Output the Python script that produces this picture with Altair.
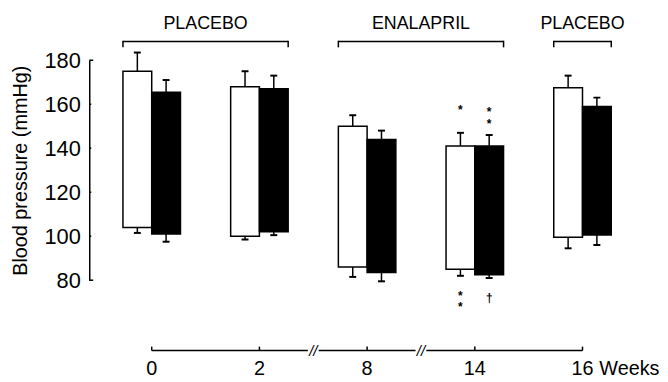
import altair as alt
import pandas as pd

# ---------------- data ----------------
weeks = ["0", "2", "8", "14", "16"]

white_top = [175, 168, 150, 141, 167.5]
white_top_err = [183.5, 175, 155, 147, 173]
white_bottom = [104, 100, 86, 85, 99.5]
white_bottom_err = [101.5, 98.5, 81.5, 82, 94.5]

black_top = [165.5, 167, 144, 141, 159]
black_top_err = [171, 173, 148, 146, 163]
black_bottom = [101, 102, 83.5, 82.5, 100.5]
black_bottom_err = [97.5, 100.5, 79.5, 81, 96]

phases = ["PLACEBO", "ENALAPRIL", "PLACEBO"]
phase_first = ["0", "8", "16"]
phase_last = ["2", "14", "16"]

y_ticks = [80, 100, 120, 140, 160, 180]

# significance marks: (week, series, side, text)
marks_week = ["14", "14", "14", "14"]
marks_series = ["white", "black", "white", "black"]
marks_side = ["above", "above", "below", "below"]
marks_text = ["*", "*\n*", "*\n*", "\u2020"]

# ---------------- derived tables ----------------
FONT = "Liberation Sans"
BW = 0.267  # bar width in group units
X_SCALE = alt.Scale(domain=[-0.58, 4.6], nice=False, zero=False)
Y_SCALE = alt.Scale(domain=[80, 180], nice=False, zero=False)
Y_AXIS = alt.Axis(values=y_ticks, ticks=False, tickSize=0, grid=False,
                  domainColor="black", domainWidth=1.5,
                  labelFont=FONT, labelFontSize=22, labelColor="black",
                  labelPadding=9,
                  title="Blood pressure (mmHg)", titleFont=FONT,
                  titleFontSize=20, titleFontWeight="normal",
                  titleColor="black", titlePadding=14)

rows = []
for i, w in enumerate(weeks):
    rows.append(dict(week=w, series="white", x0=i - BW, x1=i, xc=i - BW / 2,
                     top=white_top[i], top_err=white_top_err[i],
                     bottom=white_bottom[i], bottom_err=white_bottom_err[i]))
    rows.append(dict(week=w, series="black", x0=i, x1=i + BW, xc=i + BW / 2,
                     top=black_top[i], top_err=black_top_err[i],
                     bottom=black_bottom[i], bottom_err=black_bottom_err[i]))
bars = pd.DataFrame(rows)

idx = {w: i for i, w in enumerate(weeks)}
brackets = pd.DataFrame({
    "phase": phases,
    "x0": [idx[a] - BW for a in phase_first],
    "x1": [idx[b] + BW for b in phase_last],
})
brackets["xc"] = (brackets["x0"] + brackets["x1"]) / 2

wk_num = [int(w) for w in weeks]
breaks = [i + 0.5 for i in range(len(weeks) - 1) if wk_num[i + 1] - wk_num[i] > 2]
gap = 0.05
seg_starts = [0] + [b + gap for b in breaks]
seg_ends = [b - gap for b in breaks] + [len(weeks) - 1]
segments = pd.DataFrame({"a": seg_starts, "b": seg_ends})
axis_pts = pd.DataFrame({"pos": list(range(len(weeks))), "label": weeks})
break_df = pd.DataFrame({"pos": breaks})

ann = pd.DataFrame({"week": marks_week, "series": marks_series,
                    "side": marks_side, "text": marks_text})
ann = ann.merge(bars, on=["week", "series"])

tick_df = pd.DataFrame({"v": y_ticks})
tick_df["end"] = tick_df["v"].isin([min(y_ticks), max(y_ticks)])


def X(f):
    return alt.X(f"{f}:Q", scale=X_SCALE, axis=None)


def Y(f):
    return alt.Y(f"{f}:Q", scale=Y_SCALE, axis=Y_AXIS)


# ---------------- layers ----------------
bar_layer = alt.Chart(bars).mark_rect(stroke="black", strokeWidth=1.5).encode(
    x=X("x0"), x2="x1:Q",
    y=Y("bottom"), y2="top:Q",
    fill=alt.Fill("series:N", scale=alt.Scale(domain=["white", "black"],
                                             range=["white", "black"]),
                  legend=None),
)

err_up = alt.Chart(bars).mark_rule(color="black", strokeWidth=1.5).encode(
    x=X("xc"), y=Y("top"), y2="top_err:Q")
err_dn = alt.Chart(bars).mark_rule(color="black", strokeWidth=1.5).encode(
    x=X("xc"), y=Y("bottom"), y2="bottom_err:Q")
cap_up = alt.Chart(bars).mark_tick(orient="horizontal", size=7, thickness=2,
                                   color="black", opacity=1).encode(
    x=X("xc"), y=Y("top_err"))
cap_dn = alt.Chart(bars).mark_tick(orient="horizontal", size=7, thickness=2,
                                   color="black", opacity=1).encode(
    x=X("xc"), y=Y("bottom_err"))

ytick_end = alt.Chart(tick_df[tick_df["end"]]).mark_rule(color="black", strokeWidth=1.5).encode(
    y=Y("v"), x=alt.value(0), x2=alt.value(4))
ytick_mid = alt.Chart(tick_df[~tick_df["end"]]).mark_rule(color="black", strokeWidth=1.5).encode(
    y=Y("v"), x=alt.value(0), x2=alt.value(2))

ann_up = alt.Chart(ann[ann["side"] == "above"]).mark_text(
    font=FONT, fontSize=12, fontWeight="bold", baseline="alphabetic", lineBreak="\n",
    lineHeight=12, dy=-19, color="black").encode(
    x=X("xc"), y=Y("top_err"), text="text:N")
ann_dn = alt.Chart(ann[ann["side"] == "below"]).mark_text(
    font=FONT, fontSize=12, fontWeight="bold", baseline="alphabetic", lineBreak="\n",
    lineHeight=12, dy=24, color="black").encode(
    x=X("xc"), y=Y("bottom_err"), text="text:N")

# brackets above
br_h = alt.Chart(brackets).mark_rule(color="black", strokeWidth=1.5).encode(
    x=X("x0"), x2="x1:Q", y=alt.value(-19))
br_l = alt.Chart(brackets).mark_rule(color="black", strokeWidth=1.5).encode(
    x=X("x0"), y=alt.value(-19.7), y2=alt.value(-13))
br_r = alt.Chart(brackets).mark_rule(color="black", strokeWidth=1.5).encode(
    x=X("x1"), y=alt.value(-19.7), y2=alt.value(-13))
br_t = alt.Chart(brackets).mark_text(font=FONT, fontSize=18, baseline="middle",
                                     color="black").encode(
    x=X("xc"), y=alt.value(-37), text="phase:N")

# bottom (time) axis
ax_line = alt.Chart(segments).mark_rule(color="black", strokeWidth=1.5).encode(
    x=X("a"), x2="b:Q", y=alt.value(293))
ax_ticks = alt.Chart(axis_pts).mark_rule(color="black", strokeWidth=1.5).encode(
    x=X("pos"), y=alt.value(289), y2=alt.value(293))
ax_breaks = alt.Chart(break_df).mark_text(font=FONT, fontSize=15, fontStyle="italic",
                                          baseline="middle", color="black",
                                          text="//").encode(
    x=X("pos"), y=alt.value(293))
ax_labels = alt.Chart(axis_pts).mark_text(font=FONT, fontSize=20, baseline="middle",
                                          color="black").encode(
    x=X("pos"), y=alt.value(312), text="label:N")
ax_unit = alt.Chart(axis_pts.tail(1)).mark_text(font=FONT, fontSize=20, baseline="middle",
                                                align="left", dx=17, color="black",
                                                text="Weeks").encode(
    x=X("pos"), y=alt.value(312))

chart = alt.layer(
    bar_layer, err_up, err_dn, cap_up, cap_dn, ytick_end, ytick_mid,
    ann_up, ann_dn, br_h, br_l, br_r, br_t,
    ax_line, ax_ticks, ax_breaks, ax_labels, ax_unit,
).properties(
    width=563, height=222,
    padding={"left": 2, "top": 5, "right": 0, "bottom": 0},
    background="white",
).configure_view(stroke=None)

chart.save("out.html", embed_options={"renderer": "svg", "actions": False})
